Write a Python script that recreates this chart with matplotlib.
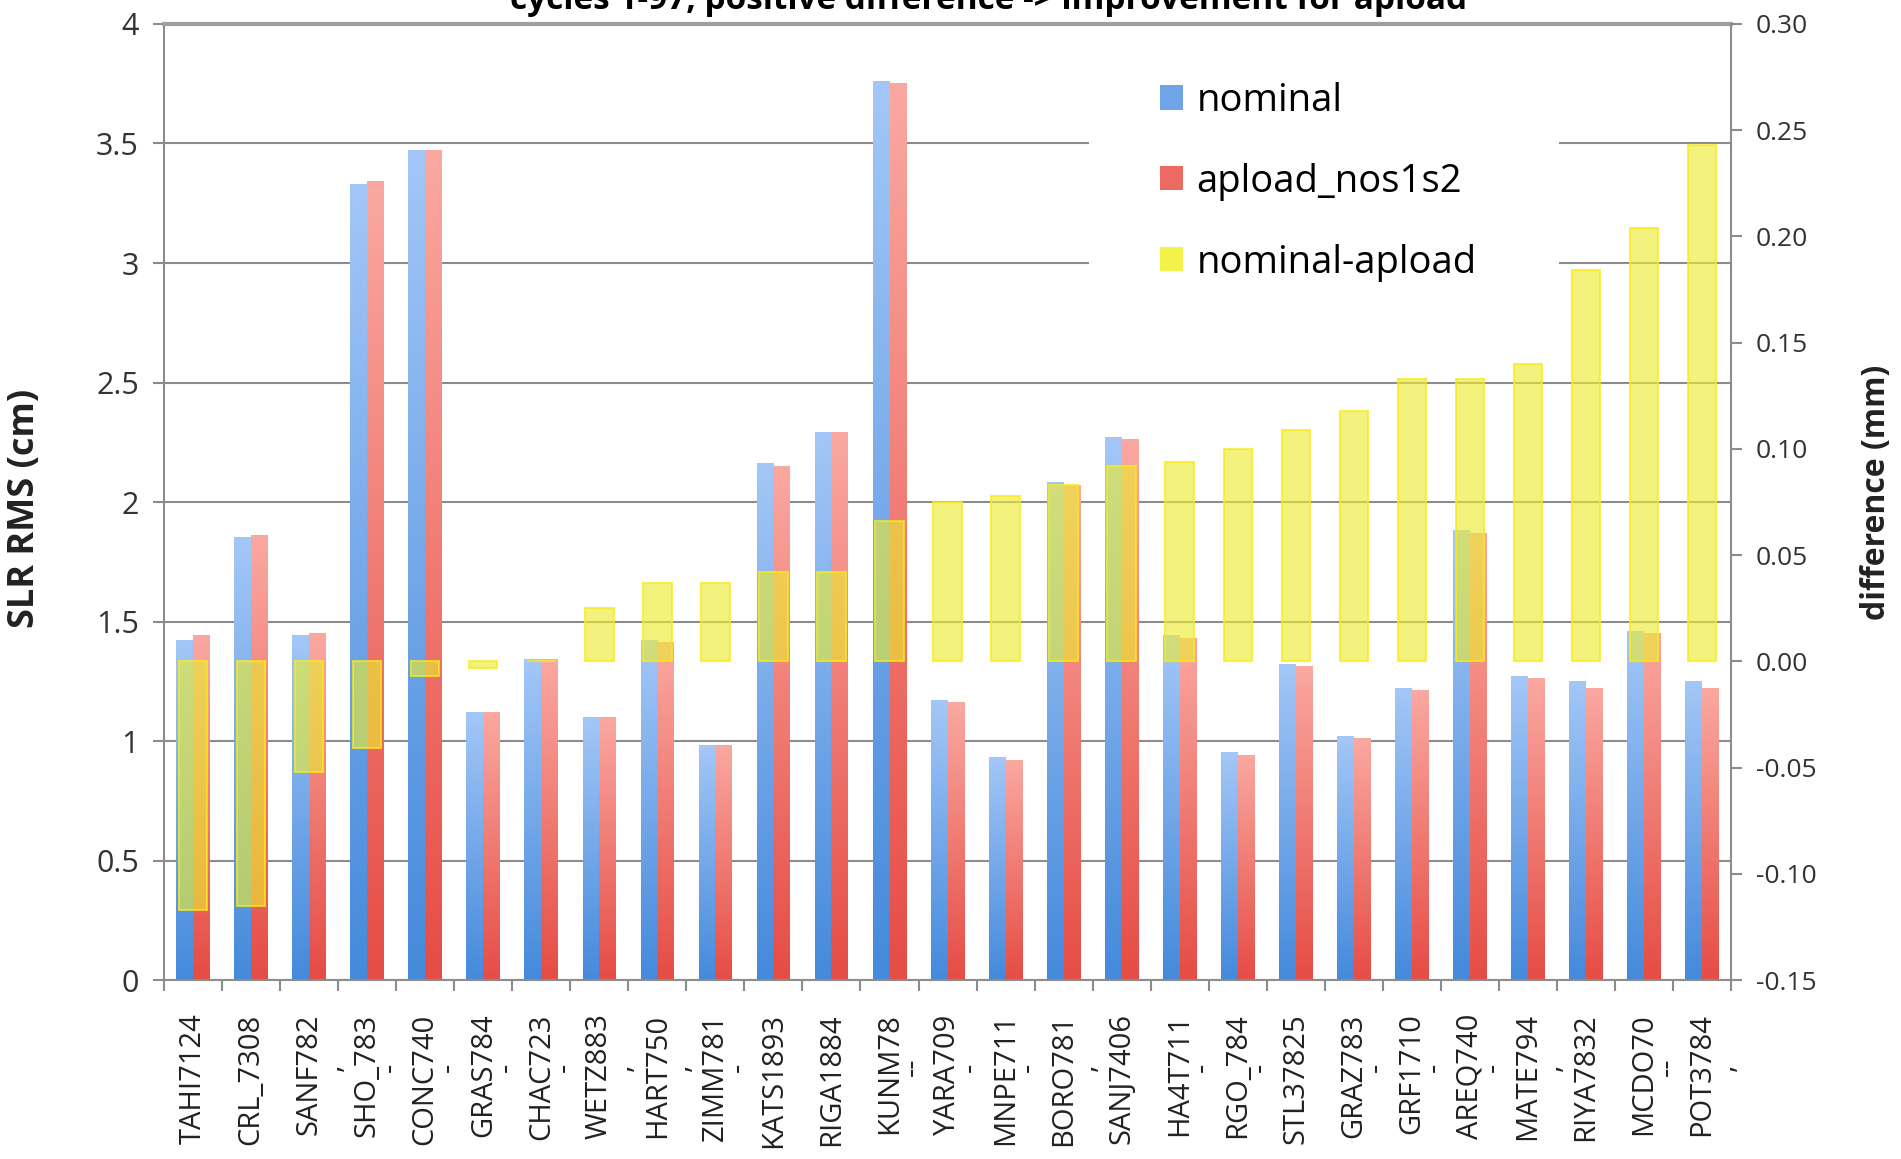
import numpy as np
import matplotlib
matplotlib.use("Agg")
import matplotlib.pyplot as plt
import matplotlib.transforms as mtransforms
from matplotlib.patches import Patch, Rectangle

plt.rcParams['font.family'] = ['Open Sans', 'DejaVu Sans']

# stations, RMS values (cm) and nominal-apload difference (mm)
stations = ["TAHI7124", "CRL_7308", "SANF782", "SHO_783", "CONC740", "GRAS784",
            "CHAC723", "WETZ883", "HART750", "ZIMM781", "KATS1893", "RIGA1884",
            "KUNM78", "YARA709", "MNPE711", "BORO781", "SANJ7406", "HA4T711",
            "RGO_784", "STL37825", "GRAZ783", "GRF1710", "AREQ740", "MATE794",
            "RIYA7832", "MCDO70", "POT3784"]
# clipped second line of the station names
name_tails = ["", "", ",", "-", "-", "-", "-", ",", ",", "-", "", "", "--", "-",
              "-", ",", "", "-", "-", "", "-", "-", "-", ",", "", "--", ","]

nominal = [1.42, 1.85, 1.44, 3.33, 3.47, 1.12, 1.34, 1.10, 1.42, 0.98, 2.16, 2.29,
           3.76, 1.17, 0.93, 2.08, 2.27, 1.44, 0.95, 1.32, 1.02, 1.22, 1.88, 1.27,
           1.25, 1.46, 1.25]
apload = [1.44, 1.86, 1.45, 3.34, 3.47, 1.12, 1.34, 1.10, 1.41, 0.98, 2.15, 2.29,
          3.75, 1.16, 0.92, 2.07, 2.26, 1.43, 0.94, 1.31, 1.01, 1.21, 1.87, 1.26,
          1.22, 1.45, 1.22]
diff = [-0.117, -0.115, -0.052, -0.041, -0.007, -0.003, 0.0, 0.025, 0.037, 0.037,
        0.042, 0.042, 0.066, 0.075, 0.078, 0.083, 0.092, 0.094, 0.100, 0.109,
        0.118, 0.133, 0.133, 0.140, 0.184, 0.204, 0.243]

grey = "#8c8c8c"
x = np.arange(len(stations))


def fill_gradient(ax, bars, top, bottom):
    # vertical colour ramp inside each bar
    t = np.linspace(0, 1, 200).reshape(-1, 1, 1)
    img = np.array(top).reshape(1, 1, 3) * (1 - t) + np.array(bottom).reshape(1, 1, 3) * t
    for b in bars:
        x0, w, h = b.get_x(), b.get_width(), b.get_height()
        ax.imshow(img, extent=(x0, x0 + w, 0, h), aspect="auto", zorder=2,
                  interpolation="bilinear")
        b.set_facecolor("none")


fig = plt.figure(figsize=(19.01, 11.59), dpi=100)
ax = fig.add_axes([0.0863, 0.1544, 0.8243, 0.8249])

b1 = ax.bar(x - 0.145, nominal, width=0.29, linewidth=0, zorder=2)
b2 = ax.bar(x + 0.145, apload, width=0.29, linewidth=0, zorder=2)
fill_gradient(ax, b1, (0.64, 0.78, 0.97), (0.27, 0.54, 0.86))
fill_gradient(ax, b2, (0.98, 0.66, 0.63), (0.90, 0.30, 0.27))

ax.set_xlim(-0.5, len(stations) - 0.5)
ax.set_ylim(0, 4)
ax.set_yticks(np.arange(0, 4.01, 0.5))
ax.set_yticklabels([f"{v:g}" for v in np.arange(0, 4.01, 0.5)])
ax.set_axisbelow(True)
ax.yaxis.grid(True, color=grey, linewidth=1.5, zorder=0.5)

# white box behind the legend
ax.add_patch(Rectangle((0.590, 0.690), 0.300, 0.305, transform=ax.transAxes,
                       facecolor="white", edgecolor="none", zorder=1))

ax.set_xticks(x)
ax.set_xticklabels(stations, rotation=90, fontsize=21, color="#222222")
# leftover bits of the wrapped station names, just right of each label
tail_tf = ax.get_xaxis_transform() + mtransforms.ScaledTranslation(
    0.23, -0.87, fig.dpi_scale_trans)
for xi, tail in zip(x, name_tails):
    if tail:
        ax.text(xi, 0, tail, transform=tail_tf, rotation=90, fontsize=21,
                color="#222222", ha="center", va="center", clip_on=False)
ax.set_xticks(np.arange(-0.5, len(stations)), minor=True)
ax.tick_params(axis="x", which="major", length=0, pad=24)
ax.tick_params(axis="x", which="minor", length=8, width=1.5, color=grey, direction="out")
ax.tick_params(axis="y", length=8, width=1.5, color=grey, labelsize=22,
               labelcolor="#333333", pad=10)
for s in ("left", "bottom"):
    ax.spines[s].set_color(grey)
    ax.spines[s].set_linewidth(1.5)
ax.spines["top"].set_color("#a0a0a0")
ax.spines["top"].set_linewidth(3)
ax.spines["right"].set_visible(False)

ax.set_ylabel("SLR RMS (cm)", fontsize=26, fontweight="bold", color="#222222")
ax.yaxis.set_label_coords(-0.077, 0.493)

# differences on the right-hand axis
ax2 = ax.twinx()
ax2.bar(x, diff, width=0.49, facecolor=(0.92, 0.92, 0.2, 0.64),
        edgecolor=(0.98, 0.92, 0.1, 0.75), linewidth=1.5, zorder=3)
ax2.set_ylim(-0.15, 0.30)
ax2.set_yticks(np.arange(-0.15, 0.301, 0.05))
ax2.set_yticklabels([f"{v:.2f}" for v in np.arange(-0.15, 0.301, 0.05)])
ax2.tick_params(axis="y", length=8, width=1.5, color=grey, labelsize=19,
                labelcolor="#333333", pad=10)
for s in ("left", "top", "bottom"):
    ax2.spines[s].set_visible(False)
ax2.spines["right"].set_color(grey)
ax2.spines["right"].set_linewidth(1.5)
ax2.set_ylabel("difference (mm)", fontsize=23, fontweight="bold", color="#222222")
ax2.yaxis.set_label_coords(1.082, 0.51)

handles = [Patch(facecolor="#6fa4e8"), Patch(facecolor="#ec6a62"),
           Patch(facecolor="#f2f24a")]
ax2.legend(handles, ["nominal", "apload_nos1s2", "nominal-apload"],
           loc="upper left", bbox_to_anchor=(1160 / 1901, 1 - 82 / 1159),
           bbox_transform=fig.transFigure, frameon=False, fontsize=27.5,
           handlelength=0.6, handleheight=0.6, handletextpad=0.35,
           labelspacing=1.12, borderpad=0, borderaxespad=0)

fig.text(0.52, 1 - 9 / 1159, "cycles 1-97, positive difference -> improvement for apload",
         ha="center", va="baseline", fontsize=24, fontweight="bold")

fig.savefig("out.png", dpi=100, facecolor="white")
